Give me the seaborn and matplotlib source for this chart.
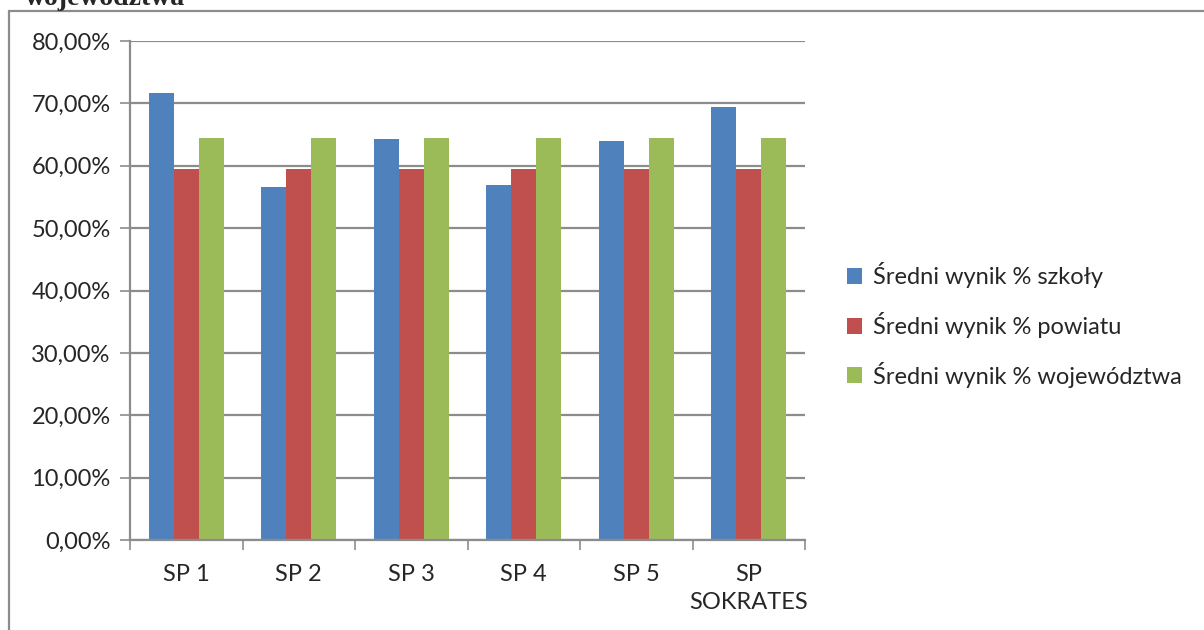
import numpy as np
import pandas as pd
import seaborn as sns
import matplotlib.pyplot as plt
from matplotlib.patches import Rectangle
from matplotlib.ticker import FuncFormatter, FixedLocator

schools = ['SP 1', 'SP 2', 'SP 3', 'SP 4', 'SP 5', 'SP SOKRATES']
school_avg = [71.6, 56.6, 64.3, 56.9, 63.9, 69.4]
county_avg = [59.4, 59.4, 59.4, 59.4, 59.4, 59.4]
voiv_avg = [64.4, 64.4, 64.4, 64.4, 64.4, 64.4]
series = ['Średni wynik % szkoły', 'Średni wynik % powiatu', 'Średni wynik % województwa']
colors = ['#4F81BD', '#C0504D', '#9BBB59']

df = pd.DataFrame({
    'szkoła': schools * 3,
    'seria': [series[0]] * 6 + [series[1]] * 6 + [series[2]] * 6,
    'wynik': school_avg + county_avg + voiv_avg,
})

sns.set_style('white')
plt.rcParams['font.family'] = ['Lato', 'DejaVu Sans']

fig = plt.figure(figsize=(12.04, 6.3), dpi=100)
ax = fig.add_axes([130 / 1204, 1 - 540 / 630, 675 / 1204, 499 / 630])

sns.barplot(data=df, x='szkoła', y='wynik', hue='seria', palette=colors,
            width=0.665, saturation=1, linewidth=0, ax=ax)

grid_c = '#8c8c8c'
fs = 17
ax.set_ylim(0, 80)
ax.set_xlim(-0.5, 5.5)
ax.set_yticks(np.arange(0, 81, 10))
ax.yaxis.set_major_formatter(FuncFormatter(lambda v, p: f'{v:.2f}%'.replace('.', ',')))
ax.yaxis.grid(True, color=grid_c, linewidth=1.6)
ax.set_axisbelow(True)
ax.tick_params(axis='y', length=7, width=1.2, color=grid_c, labelsize=fs, pad=7, left=True)
ax.set_xticks(range(len(schools)))
ax.set_xticklabels([s.replace('SP SOKRATES', 'SP\nSOKRATES') for s in schools],
                   va='top', linespacing=1.45)
ax.tick_params(axis='x', which='major', length=0, labelsize=fs, pad=17)
ax.xaxis.set_minor_locator(FixedLocator(np.arange(-0.5, 6, 1)))
ax.tick_params(axis='x', which='minor', length=7, width=1.2, color=grid_c, bottom=True)
for s in ['top', 'right']:
    ax.spines[s].set_visible(False)
for s in ['left', 'bottom']:
    ax.spines[s].set_color(grid_c)
    ax.spines[s].set_linewidth(1.6)
ax.set_xlabel('')
ax.set_ylabel('')

handles, labels = ax.get_legend_handles_labels()
ax.legend(handles, labels, loc='center left', bbox_to_anchor=(847 / 1204, 1 - 325 / 630),
          bbox_transform=fig.transFigure, frameon=False, fontsize=fs,
          handlelength=0.65, handleheight=0.65, handletextpad=0.45, labelspacing=1.0,
          borderaxespad=0, borderpad=0)

fig.patches.append(Rectangle((8.5 / 1204, -0.2), 1.2, 1.2 - 11 / 630,
                             transform=fig.transFigure, fill=False,
                             edgecolor=grid_c, linewidth=1.6))
fig.text(25 / 1204, 1 - 5 / 630, 'województwa', fontsize=20, fontweight='bold',
         family=['Liberation Serif', 'DejaVu Serif'], va='baseline', ha='left')

fig.savefig('out.png', dpi=100)
